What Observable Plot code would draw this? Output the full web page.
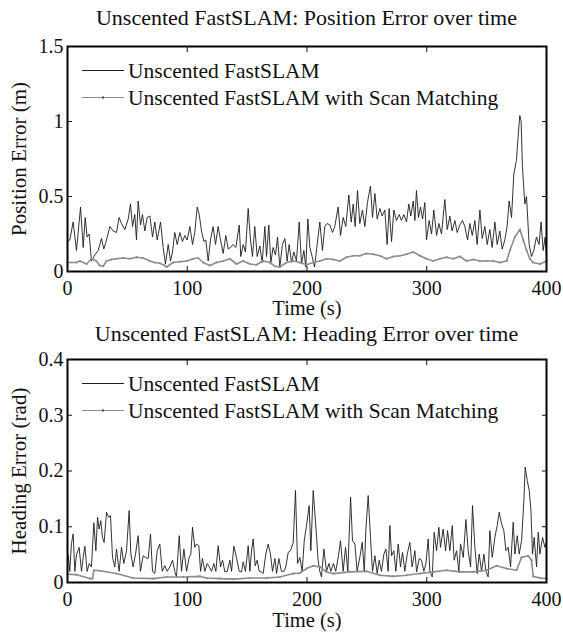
<!DOCTYPE html>
<html><head><meta charset="utf-8">
<script src="https://cdn.jsdelivr.net/npm/d3@7"></script>
<script src="https://cdn.jsdelivr.net/npm/@observablehq/plot@0.6"></script>
<style>
body{margin:0;background:#fff;}
#wrap{position:relative;width:563px;height:633px;overflow:hidden;font-family:"Liberation Serif","Times New Roman",serif;color:#111;}
.chart{position:absolute;left:0;}
</style></head><body><div id="wrap">
<div id="c1" class="chart" style="top:28px"></div>
<div id="c2" class="chart" style="top:345px"></div>
</div>
<script>
const seriesNames = ["Unscented FastSLAM", "Unscented FastSLAM with Scan Matching"];
const titles = ["Unscented FastSLAM: Position Error over time", "Unscented FastSLAM: Heading Error over time"];
const xLabel = "Time (s)";
const yLabels = ["Position Error (m)", "Heading Error (rad)"];
const xTicks = [0, 100, 200, 300, 400];
const posTicks = [0, 0.5, 1, 1.5];
const headTicks = [0, 0.1, 0.2, 0.3, 0.4];

// Position error, Unscented FastSLAM
const posTime = [0,1.9,4.7,7.5,10.9,13.1,14.8,16.4,18.1,20.0,
22.8,25.6,28.4,30.3,32.6,35.4,38.1,40.9,43.1,45.1,
47.9,50.7,52.6,54.3,56.2,57.6,59.0,61.0,62.6,64.6,
66.5,68.8,71.0,72.9,74.9,77.7,79.9,81.8,84.1,86.0,
87.7,89.6,91.6,93.8,96.0,98.0,99.9,102.2,104.4,106.3,
108.3,110.0,111.9,113.9,115.5,117.5,119.4,121.6,123.6,125.8,
127.8,130.0,132.2,134.2,136.1,138.3,140.6,143.4,144.7,146.7,
148.6,150.9,152.8,154.5,156.4,158.4,160.6,162.6,164.8,166.2,
168.1,169.8,171.7,173.7,175.4,177.3,179.5,181.5,183.4,185.1,
187.1,189.0,191.2,193.5,195.4,197.4,199.0,200.7,202.4,204.3,
206.3,208.5,210.7,212.9,214.9,216.8,219.1,221.3,223.2,226.0,
228.0,230.2,232.4,234.9,236.9,238.6,240.2,242.2,244.1,246.3,
248.3,250.5,253.0,254.7,256.7,258.6,260.8,262.8,265.0,266.9,
268.6,270.6,272.5,274.7,277.0,278.9,280.9,283.1,285.0,286.7,
288.7,290.1,291.4,293.1,294.8,296.5,298.4,299.8,302.0,304.0,
305.9,308.2,310.1,312.3,315.1,317.1,319.3,321.2,323.5,325.4,
327.6,329.9,331.8,334.1,336.0,338.0,340.2,342.1,344.4,346.3,
348.5,350.5,352.7,354.6,356.9,358.8,361.0,363.0,365.2,367.1,
368.8,370.8,372.7,374.9,376.3,377.7,378.8,379.9,381.9,383.3,
385.5,387.5,389.4,391.6,393.8,395.5,397.2,398.9,400];
const posErr = [0.2,0.21,0.33,0.14,0.43,0.16,0.36,0.23,0.25,0.07,
0.11,0.14,0.22,0.15,0.21,0.30,0.27,0.26,0.36,0.32,
0.28,0.35,0.45,0.30,0.38,0.21,0.47,0.31,0.38,0.27,
0.36,0.37,0.23,0.33,0.21,0.33,0.16,0.05,0.18,0.07,
0.13,0.26,0.18,0.26,0.20,0.24,0.21,0.30,0.18,0.26,
0.43,0.38,0.27,0.20,0.21,0.07,0.21,0.30,0.18,0.30,
0.21,0.12,0.24,0.15,0.16,0.18,0.16,0.31,0.10,0.18,
0.13,0.42,0.21,0.10,0.30,0.10,0.17,0.06,0.30,0.10,
0.31,0.06,0.16,0.11,0.23,0.03,0.18,0.22,0.07,0.18,
0.06,0.13,0.07,0.33,0.05,0.14,0.03,0.35,0.16,0.10,
0.03,0.18,0.33,0.14,0.30,0.32,0.31,0.26,0.30,0.43,
0.24,0.36,0.30,0.51,0.33,0.45,0.30,0.54,0.32,0.41,
0.30,0.46,0.57,0.36,0.52,0.35,0.42,0.37,0.41,0.18,
0.42,0.20,0.41,0.34,0.38,0.34,0.38,0.33,0.45,0.37,
0.47,0.34,0.54,0.36,0.43,0.35,0.46,0.21,0.34,0.25,
0.41,0.24,0.32,0.25,0.48,0.28,0.37,0.27,0.34,0.26,
0.31,0.34,0.30,0.21,0.32,0.24,0.34,0.18,0.41,0.22,
0.30,0.18,0.28,0.16,0.33,0.18,0.27,0.15,0.21,0.30,
0.47,0.36,0.65,0.74,0.90,1.04,1.00,0.70,0.45,0.50,
0.18,0.10,0.14,0.23,0.18,0.33,0.14,0.23,0.10];

// Position error, with Scan Matching
const posSMTime = [0,7.5,10.3,15.9,20,24.2,27,29.8,32.6,36.7,
40.9,46.5,52,57.6,63.2,68.8,72.9,77.1,81.3,82.7,
88.2,93.8,99.4,105,109.1,113.3,118.9,124.4,130,135.6,
141.1,146.7,152.3,157.8,163.4,169,173.2,177.3,182.9,188.5,
194,199.6,205.2,210.7,216.3,221.9,227.4,233,238.6,244.1,
249.7,255.3,260.8,266.4,272,277.6,283.1,288.7,294.3,299.8,
305.4,311,316.5,322.1,327.7,333.2,338.8,344.4,349.9,355.5,
361.1,366.7,369.4,373.6,377.8,380.6,383.4,386.1,388.9,394.5,400];
const posSMErr = [0.06,0.06,0.07,0.05,0.085,0.07,0.04,0.035,0.07,0.08,
0.085,0.09,0.085,0.095,0.09,0.07,0.06,0.055,0.04,0.03,
0.06,0.065,0.07,0.085,0.09,0.06,0.04,0.06,0.07,0.085,
0.05,0.07,0.05,0.045,0.07,0.06,0.035,0.03,0.06,0.07,
0.06,0.045,0.06,0.07,0.085,0.08,0.07,0.095,0.105,0.105,
0.12,0.115,0.105,0.085,0.10,0.105,0.115,0.13,0.105,0.085,
0.07,0.085,0.095,0.085,0.10,0.07,0.08,0.07,0.07,0.07,
0.06,0.07,0.14,0.23,0.28,0.21,0.14,0.085,0.06,0.05,0.07];

// Heading error, Unscented FastSLAM
const headTime = [0.6,1.9,3.3,4.7,6.1,7.5,9.7,11.7,13.1,14.5,
16.4,18.1,20.0,22.0,23.7,25.1,26.4,27.8,29.2,30.6,
32.6,34.5,35.9,37.6,39.5,40.9,43.1,45.1,47.0,49.3,
51.5,52.9,54.8,56.8,59.0,60.9,63.2,65.1,67.4,69.3,
71.0,72.9,74.9,77.1,79.1,81.3,83.2,85.5,87.7,89.6,
91.0,93.3,95.2,97.2,99.4,101.6,103.0,104.4,106.3,107.7,
109.7,111.1,112.7,114.7,116.6,118.3,120.3,122.2,123.9,125.8,
127.8,129.5,131.4,133.4,135.6,137.0,138.9,141.1,143.4,145.3,
146.7,148.6,150.9,152.3,153.7,155.1,156.7,158.4,160.1,162.0,
163.4,165.6,167.6,169.5,171.2,173.2,174.6,176.5,178.7,180.7,
182.3,184.3,186.2,188.5,190.4,192.1,194.0,196.0,197.7,199.6,
201.8,203.2,205.2,206.6,208.0,209.3,210.7,212.1,214.1,216.3,
218.3,219.9,222.1,224.0,226.3,228.0,230.2,232.2,234.1,236.4,
238.0,240.0,241.9,244.1,246.1,247.8,249.2,251.1,253.0,254.7,
256.7,258.6,260.3,262.2,264.2,265.9,267.8,269.2,270.6,272.5,
274.2,276.2,278.1,279.8,281.7,283.7,285.9,287.8,290.1,291.5,
293.7,295.6,297.6,299.3,301.2,302.6,304.6,306.2,308.2,310.1,
311.5,313.7,315.7,317.4,319.3,321.3,322.9,324.9,326.8,328.2,
330.5,332.7,334.6,336.6,338.2,340.2,342.1,343.8,345.8,347.7,
349.4,351.3,352.7,354.7,356.9,358.8,360.5,362.5,364.4,366.1,
368.0,370.0,372.2,373.6,375.6,377.2,379.2,381.1,382.2,383.9,
385.6,387.0,388.3,389.7,391.7,393.1,394.5,396.7,398.7,400];
const headErr = [0.05,0.02,0.07,0.087,0.02,0.05,0.063,0.02,0.045,0.065,
0.02,0.034,0.028,0.107,0.057,0.117,0.096,0.111,0.081,0.072,
0.126,0.117,0.12,0.045,0.028,0.06,0.02,0.063,0.034,0.057,
0.129,0.051,0.028,0.051,0.084,0.02,0.048,0.045,0.043,0.087,
0.02,0.016,0.057,0.069,0.02,0.03,0.02,0.028,0.04,0.02,
0.01,0.084,0.02,0.06,0.02,0.045,0.051,0.099,0.063,0.069,
0.066,0.02,0.043,0.02,0.034,0.028,0.02,0.034,0.02,0.066,
0.028,0.04,0.019,0.02,0.04,0.02,0.065,0.045,0.02,0.019,
0.037,0.02,0.066,0.02,0.057,0.078,0.03,0.04,0.02,0.019,
0.016,0.051,0.069,0.051,0.02,0.043,0.016,0.043,0.02,0.02,
0.028,0.054,0.057,0.072,0.165,0.034,0.045,0.02,0.075,0.102,
0.138,0.057,0.165,0.123,0.081,0.04,0.02,0.01,0.06,0.02,
0.034,0.02,0.034,0.02,0.048,0.075,0.02,0.063,0.02,0.153,
0.075,0.069,0.02,0.045,0.072,0.02,0.096,0.156,0.081,0.02,
0.048,0.016,0.04,0.02,0.051,0.06,0.02,0.102,0.048,0.057,
0.02,0.069,0.028,0.054,0.02,0.051,0.072,0.028,0.057,0.019,
0.043,0.04,0.02,0.034,0.078,0.02,0.01,0.09,0.057,0.099,
0.063,0.096,0.057,0.093,0.057,0.102,0.04,0.057,0.02,0.069,
0.045,0.113,0.057,0.028,0.138,0.063,0.016,0.051,0.02,0.051,
0.02,0.01,0.093,0.045,0.081,0.102,0.126,0.105,0.093,0.057,
0.063,0.028,0.108,0.051,0.084,0.051,0.075,0.147,0.207,0.183,
0.165,0.129,0.051,0.081,0.028,0.09,0.051,0.081,0.063,0.072];

// Heading error, with Scan Matching
const headSMTime = [0,7.5,18.7,20.9,22,27,40.9,54.8,71.5,82.7,
96.6,110.5,116.1,127.2,138.4,152.3,166.2,177.3,188.5,194,
199.6,205.2,210.7,216.3,221.9,235.8,249.7,260.8,272,283.1,
294.3,305.4,316.5,327.7,338.8,349.9,358.3,366.7,375,379.2,
384.7,387.5,388.9,394.5,400];
const headSMErr = [0.015,0.014,0.007,0.007,0.022,0.021,0.016,0.008,0.007,0.01,
0.01,0.011,0.008,0.007,0.006,0.008,0.008,0.01,0.016,0.017,
0.025,0.03,0.028,0.019,0.016,0.019,0.02,0.013,0.011,0.013,
0.016,0.019,0.022,0.019,0.019,0.022,0.03,0.025,0.022,0.045,
0.048,0.04,0.011,0.008,0.007];

const BLACK = "#1c1c1c", GRAY = "#8c8c8c";
const FONT = "Liberation Serif, Times New Roman, serif";

function rows(ts, vs) { return ts.map((t, i) => ({t, v: vs[i]})).filter(d => d.v != null); }

function makeChart({black, gray, yDomain, yTicks, yLabel, height, marginTop, marginBottom, xLabelDy}) {
  return Plot.plot({
    width: 563, height, marginLeft: 67, marginRight: 17, marginTop, marginBottom,
    style: {fontFamily: FONT, fontSize: "20px", color: "#111", background: "transparent", overflow: "visible"},
    x: {domain: [0, 400]},
    y: {domain: yDomain},
    marks: [
      Plot.line(black, {x: "t", y: "v", stroke: BLACK, strokeWidth: 0.9}),
      Plot.line(gray, {x: "t", y: "v", stroke: GRAY, strokeWidth: 1.6}),
      Plot.dot(gray, {x: "t", y: "v", r: 1.1, fill: GRAY, stroke: null}),
      Plot.frame({stroke: "#000", strokeWidth: 2}),
      Plot.axisX(xTicks, {anchor: "bottom", tickSize: -5, tickPadding: 14, fontSize: 20, label: null, tickFormat: d => String(d)}),
      Plot.axisX(xTicks, {anchor: "top", tickSize: -5, label: null, tickFormat: () => ""}),
      Plot.axisY(yTicks, {anchor: "left", tickSize: -5, tickPadding: 9, fontSize: 20, label: null, tickFormat: d => String(d)}),
      Plot.axisY(yTicks, {anchor: "right", tickSize: -5, label: null, tickFormat: () => ""}),
      Plot.text([xLabel], {frameAnchor: "bottom", dy: xLabelDy, lineAnchor: "middle", textAnchor: "middle", fontSize: 20.5, fill: "#111"}),
      Plot.text([yLabel], {frameAnchor: "left", dx: -48, rotate: -90, lineAnchor: "middle", textAnchor: "middle", fontSize: 21, fill: "#111"})
    ]
  });
}

const ns = "http://www.w3.org/2000/svg";
function el(tag, attrs, parent) {
  const e = document.createElementNS(ns, tag);
  for (const k in attrs) e.setAttribute(k, attrs[k]);
  parent.appendChild(e);
  return e;
}

function overlay(frameTop, title, titleBaseline) {
  const svg = document.createElementNS(ns, "svg");
  svg.setAttribute("width", 563); svg.setAttribute("height", 633);
  svg.style.position = "absolute"; svg.style.left = "0"; svg.style.top = "0"; svg.style.pointerEvents = "none";
  const tt = el("text", {x: 306.5, y: titleBaseline, "text-anchor": "middle", "font-family": FONT, "font-size": 22, fill: "#111"}, svg);
  tt.textContent = title;
  const items = [{name: seriesNames[0], color: BLACK, w: 1, dot: false}, {name: seriesNames[1], color: GRAY, w: 1, dot: true}];
  items.forEach((it, i) => {
    const y = frameTop + 24 + i * 27 + 0.5;
    el("line", {x1: 82, x2: 124, y1: y, y2: y, stroke: it.color, "stroke-width": it.w}, svg);
    if (it.dot) el("circle", {cx: 103, cy: y, r: 1.2, fill: "#555"}, svg);
    const t = el("text", {x: 128, y: y + 7, "font-family": FONT, "font-size": 21.5, fill: "#111"}, svg);
    t.textContent = it.name;
  });
  return svg;
}

document.getElementById("c1").appendChild(makeChart({
  black: rows(posTime, posErr), gray: rows(posSMTime, posSMErr),
  yDomain: [0, 1.5], yTicks: posTicks, yLabel: yLabels[0],
  height: 298, marginTop: 18, marginBottom: 55, xLabelDy: 37
}));
document.getElementById("c2").appendChild(makeChart({
  black: rows(headTime, headErr), gray: rows(headSMTime, headSMErr),
  yDomain: [0, 0.4], yTicks: headTicks, yLabel: yLabels[1],
  height: 288, marginTop: 14, marginBottom: 51, xLabelDy: 38
}));
const wrap = document.getElementById("wrap");
wrap.appendChild(overlay(46, titles[0], 25));
wrap.appendChild(overlay(359, titles[1], 341));
</script>
</body></html>
